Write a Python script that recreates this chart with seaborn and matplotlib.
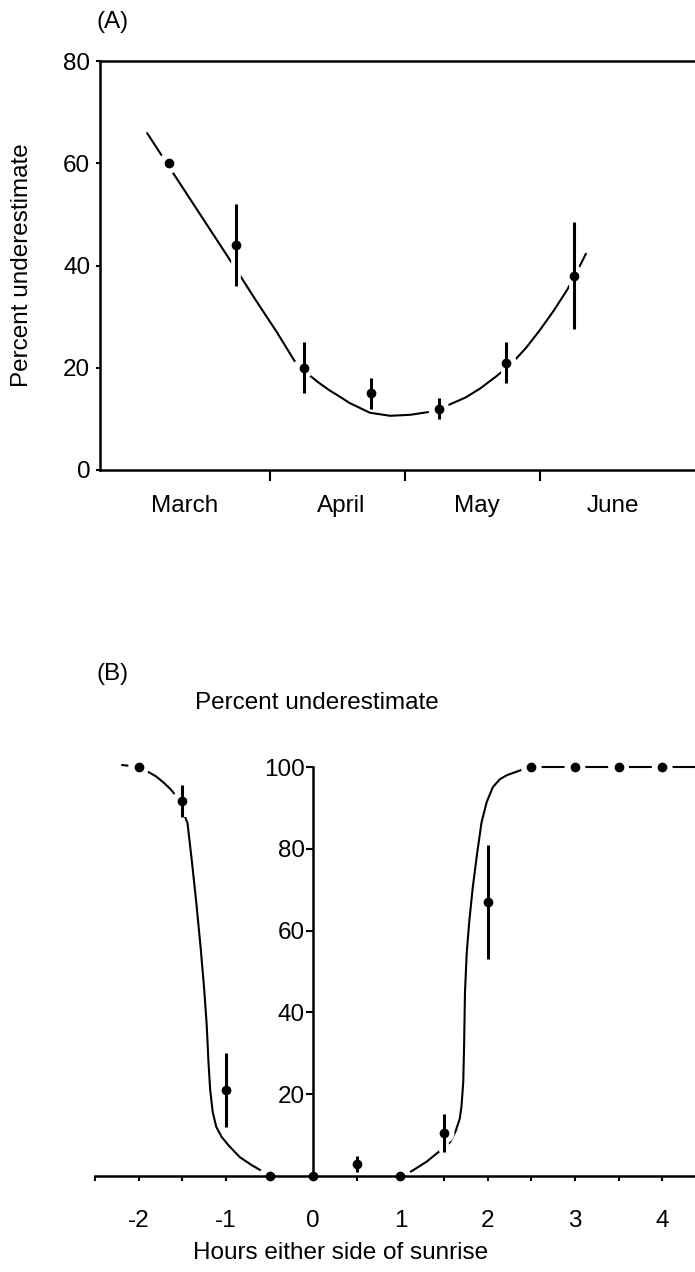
import matplotlib
matplotlib.use("Agg")
import matplotlib.pyplot as plt
import matplotlib.patheffects as pe
import numpy as np
import seaborn as sns

# ---------------- Panel A: underestimate through the season ----------------
# x in month units: boundaries between months sit at 1, 2 and 3
season_x = [0.25, 0.75, 1.25, 1.75, 2.25, 2.75, 3.25]
season_pct = [60, 44, 20, 15, 12, 21, 38]
season_err = [0, 8, 5, 3, 2, 4, 10.5]

season_fit_x = [0.09, 0.25, 0.50, 0.75, 0.90, 1.05, 1.18, 1.28, 1.36, 1.44,
                1.52, 1.59, 1.74, 1.89, 2.04, 2.19, 2.33, 2.45, 2.56, 2.68,
                2.80, 2.90, 3.00, 3.10, 3.20, 3.27, 3.34]
season_fit_y = [65.9, 59.4, 49.3, 39.2, 33.0, 27.0, 21.4, 18.8, 17.1, 15.6,
                14.3, 13.1, 11.2, 10.6, 10.8, 11.4, 12.8, 14.2, 16.0, 18.4,
                21.1, 24.0, 27.4, 31.1, 35.2, 38.6, 42.3]

month_names = ["March", "April", "May", "June"]
month_label_pos = [0.37, 1.53, 2.53, 3.54]
month_bounds = [1, 2, 3]
season_yticks = [0, 20, 40, 60, 80]

# ---------------- Panel B: underestimate around sunrise ----------------
hours = [-2, -1.5, -1, -0.5, 0, 0.5, 1, 1.5, 2, 2.5, 3, 3.5, 4]
hours_pct = [100, 91.7, 21, 0, 0, 3, 0, 10.5, 67, 100, 100, 100, 100]
hours_err = [0, 4, 9, 0, 0, 2, 0, 4.7, 14, 0, 0, 0, 0]

dawn_fit_x = [-2.19, -2.0, -1.89, -1.80, -1.72, -1.64, -1.56, -1.44, -1.39,
              -1.34, -1.29, -1.25, -1.22, -1.20, -1.18, -1.15, -1.11, -1.05,
              -0.97, -0.84, -0.70, -0.57, -0.5]
dawn_fit_y = [100.5, 100, 98.8, 97.7, 96.3, 94.7, 92.7, 86.3, 77.0,
              67.0, 56.0, 46.0, 37.0, 28.0, 21.0, 15.5, 12.0, 9.6,
              7.5, 4.6, 2.6, 1.0, 0]

rise_fit_x = [1.0, 1.13, 1.30, 1.45, 1.57, 1.63, 1.68, 1.70, 1.72, 1.73,
              1.74, 1.76, 1.79, 1.83, 1.88, 1.93, 1.99, 2.06, 2.14, 2.22,
              2.39, 2.5, 3.0, 3.5, 4.0, 4.4]
rise_fit_y = [0, 1.2, 3.5, 6.1, 8.3, 10.8, 14.0, 17.0, 23.0, 32.0,
              45.0, 54.5, 62.5, 70.7, 79.0, 86.5, 91.5, 95.1, 97.0, 98.0,
              99.3, 100, 100, 100, 100, 100]

hour_ticks = [-2, -1, 0, 1, 2, 3, 4]
hour_minor = [-2.5, -1.5, -0.5, 0.5, 1.5, 2.5, 3.5]
hours_yticks = [20, 40, 60, 80, 100]

# ---------------- style ----------------
sns.set_theme(style="white")
plt.rcParams["font.family"] = ["Liberation Sans", "DejaVu Sans"]
plt.rcParams["text.color"] = "black"
plt.rcParams["xtick.color"] = "black"
plt.rcParams["ytick.color"] = "black"
plt.rcParams["axes.labelcolor"] = "black"
FS = 17.5
INK = "black"

W, H = 695, 1272
fig = plt.figure(figsize=(W / 100, H / 100), dpi=100)


def px_box(left, top, right, bottom):
    return [left / W, 1 - bottom / H, (right - left) / W, (bottom - top) / H]


def draw_points(ax, xs, ys, errs, fits):
    for fx, fy in fits:
        sns.lineplot(x=fx, y=fy, ax=ax, color=INK, lw=1.5, sort=False,
                     estimator=None, zorder=2, clip_on=False)
    xs = np.asarray(xs, float)
    ys = np.asarray(ys, float)
    errs = np.asarray(errs, float)
    # white halo so the fitted line breaks around each point
    sns.scatterplot(x=xs, y=ys, ax=ax, s=15 ** 2, color="white",
                    edgecolor="none", zorder=2.2, clip_on=False, legend=False)
    has = errs > 0
    eb = ax.errorbar(xs[has], ys[has], yerr=errs[has], fmt="none",
                     ecolor=INK, elinewidth=2.2, capsize=0, zorder=3)
    for coll in eb.lines[2]:
        coll.set_path_effects([pe.Stroke(linewidth=7, foreground="white"),
                               pe.Normal()])
        coll.set_clip_on(False)
    sns.scatterplot(x=xs, y=ys, ax=ax, s=7 ** 2, color=INK,
                    edgecolor=INK, linewidth=0, zorder=4, clip_on=False,
                    legend=False)


# ---------------- Panel A ----------------
axA = fig.add_axes(px_box(100, 61, 695, 470))
draw_points(axA, season_x, season_pct, season_err,
            [(season_fit_x, season_fit_y)])
axA.set_xlim(-0.259, 4.148)
axA.set_ylim(0, 80)
for side in ("left", "top", "bottom"):
    axA.spines[side].set_linewidth(1.8)
    axA.spines[side].set_color(INK)
axA.spines["right"].set_visible(False)
axA.set_yticks(season_yticks)
axA.set_yticklabels([str(v) for v in season_yticks], fontsize=FS)
axA.tick_params(axis="y", which="major", direction="out", length=3,
                width=1.5, color=INK, labelcolor=INK, pad=4, left=True)
axA.set_xticks(month_bounds)
axA.set_xticklabels([""] * len(month_bounds))
axA.tick_params(axis="x", which="major", direction="out", length=8,
                width=1.5, color=INK, bottom=True)
axA.set_xticks(month_label_pos, minor=True)
axA.set_xticklabels(month_names, minor=True, fontsize=FS)
axA.tick_params(axis="x", which="minor", length=0, pad=18, labelcolor=INK)
axA.set_xlabel("")
axA.set_ylabel("")

fig.text(97 / W, 1 - 22 / H, "(A)", fontsize=FS, ha="left", va="center")
fig.text(22 / W, 1 - 265 / H, "Percent underestimate", fontsize=FS,
         rotation=90, ha="center", va="center")

# ---------------- Panel B ----------------
y_top_val = 104
px_per_unit_y = (1176 - 767) / 100
axB = fig.add_axes(px_box(95, 1176 - y_top_val * px_per_unit_y, 695, 1176))
draw_points(axB, hours, hours_pct, hours_err,
            [(dawn_fit_x, dawn_fit_y), (rise_fit_x, rise_fit_y)])
axB.set_xlim(-2.5, 4.376)
axB.set_ylim(0, y_top_val)
axB.spines["top"].set_visible(False)
axB.spines["right"].set_visible(False)
axB.spines["left"].set_position(("data", 0))
axB.spines["left"].set_bounds(0, 100)
axB.spines["bottom"].set_bounds(-2.5, 4.376)
for side in ("left", "bottom"):
    axB.spines[side].set_linewidth(1.8)
    axB.spines[side].set_color(INK)
    axB.spines[side].set_zorder(2.5)
axB.set_yticks(hours_yticks)
axB.set_yticklabels([str(v) for v in hours_yticks], fontsize=FS)
axB.tick_params(axis="y", direction="out", length=5, width=1.5,
                color=INK, labelcolor=INK, pad=1, left=True)
axB.set_xticks(hour_ticks)
axB.set_xticklabels([str(v) for v in hour_ticks], fontsize=FS)
axB.set_xticks(hour_minor, minor=True)
axB.tick_params(axis="x", which="both", direction="out", length=3.5,
                width=1.5, color=INK, labelcolor=INK, pad=21, bottom=True)
axB.set_xlabel("")
axB.set_ylabel("")

fig.text(97 / W, 1 - 674 / H, "(B)", fontsize=FS, ha="left", va="center")
fig.text(317 / W, 1 - 703 / H, "Percent underestimate", fontsize=FS,
         ha="center", va="center")
fig.text(341 / W, 1 - 1253 / H, "Hours either side of sunrise", fontsize=FS,
         ha="center", va="center")

fig.savefig("out.png", dpi=100, facecolor="white")
